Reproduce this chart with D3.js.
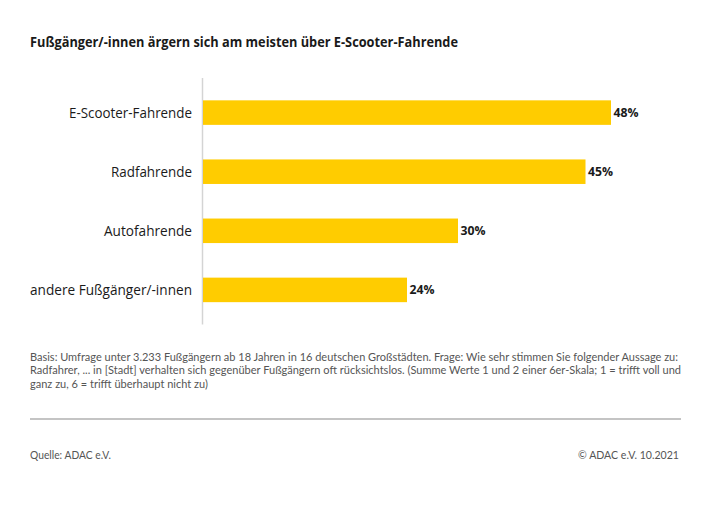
<!DOCTYPE html>
<html><head><meta charset="utf-8">
<script src="https://cdn.jsdelivr.net/npm/d3@7"></script>
<style>html,body{margin:0;padding:0;background:#fff;}</style>
</head><body>
<svg id="c" width="710" height="521"></svg>
<script>
const title = "Fußgänger/-innen ärgern sich am meisten über E-Scooter-Fahrende";
const categories = ["E-Scooter-Fahrende", "Radfahrende", "Autofahrende", "andere Fußgänger/-innen"];
const values = [48, 45, 30, 24];
const valueLabels = ["48%", "45%", "30%", "24%"];
const footnoteLines = [
  "Basis: Umfrage unter 3.233 Fußgängern ab 18 Jahren in 16 deutschen Großstädten. Frage: Wie sehr stimmen Sie folgender Aussage zu:",
  "Radfahrer, ... in [Stadt] verhalten sich gegenüber Fußgängern oft rücksichtslos. (Summe Werte 1 und 2 einer 6er-Skala; 1 = trifft voll und",
  "ganz zu, 6 = trifft überhaupt nicht zu)"
];
const sourceText = "Quelle: ADAC e.V.";
const copyrightText = "© ADAC e.V. 10.2021";

const svg = d3.select("#c");
const FONT = "'Open Sans', 'Noto Sans', sans-serif";
const SMALL = "Lato, 'Open Sans', sans-serif";

function fit(sel, w) {
  sel.each(function() {
    const cur = this.getComputedTextLength();
    if (cur > 0) d3.select(this).attr("textLength", w).attr("lengthAdjust", "spacingAndGlyphs");
  });
}

// title
svg.append("text").attr("x", 30).attr("y", 47)
  .attr("font-family", FONT).attr("font-weight", 700).attr("font-size", 14.5)
  .attr("fill", "#1a1a1a").text(title).call(fit, 428);

const x = d3.scaleLinear().domain([0, 50]).range([203, 628]);
const y = d3.scaleBand().domain(categories).range([78, 324.5]).paddingInner(0.585).paddingOuter(0.378);

// axis line
svg.append("line").attr("x1", 202.5).attr("x2", 202.5).attr("y1", 78).attr("y2", 324.5)
  .attr("stroke", "#d4d4d4").attr("stroke-width", 1.5);

svg.selectAll("rect.bar").data(categories).join("rect").attr("class", "bar")
  .attr("x", x(0)).attr("y", d => y(d)).attr("height", y.bandwidth())
  .attr("width", (d, i) => x(values[i]) - x(0)).attr("fill", "#ffcc00");

const labelWidths = [123, 81, 88, 162];
svg.selectAll("text.cat").data(categories).join("text").attr("class", "cat")
  .attr("x", 192).attr("y", d => y(d) + y.bandwidth() / 2 + 5)
  .attr("text-anchor", "end").attr("font-family", FONT).attr("font-size", 14)
  .attr("fill", "#1a1a1a").text(d => d)
  .each(function(d, i) { d3.select(this).call(fit, labelWidths[i]); });

svg.selectAll("text.val").data(categories).join("text").attr("class", "val")
  .attr("x", (d, i) => x(values[i]) + 2.5).attr("y", d => y(d) + y.bandwidth() / 2 + 4.5)
  .attr("font-family", FONT).attr("font-weight", 700).attr("font-size", 13)
  .attr("fill", "#1a1a1a").text((d, i) => valueLabels[i])
  .call(fit, 25);

// footnote
const fnWidths = [648, 651, 178];
footnoteLines.forEach((t, i) => {
  svg.append("text").attr("x", 30).attr("y", 360.5 + i * 13.5)
    .attr("font-family", SMALL).attr("font-size", 11.5).attr("fill", "#555")
    .text(t).call(fit, fnWidths[i]);
});

svg.append("line").attr("x1", 30).attr("x2", 681).attr("y1", 419).attr("y2", 419)
  .attr("stroke", "#c4c4c4").attr("stroke-width", 2);

svg.append("text").attr("x", 30).attr("y", 459)
  .attr("font-family", SMALL).attr("font-size", 11.5).attr("fill", "#555")
  .text(sourceText).call(fit, 81);
svg.append("text").attr("x", 679).attr("y", 459).attr("text-anchor", "end")
  .attr("font-family", SMALL).attr("font-size", 11.5).attr("fill", "#555")
  .text(copyrightText).call(fit, 101);
</script>
</body></html>
